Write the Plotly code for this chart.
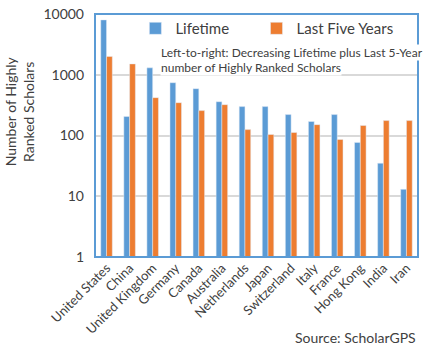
import plotly.graph_objects as go

countries = ["United States", "China", "United Kingdom", "Germany", "Canada", "Australia",
             "Netherlands", "Japan", "Switzerland", "Italy", "France", "Hong Kong", "India", "Iran"]
lifetime = [8000, 205, 1300, 740, 590, 360, 299, 299, 221, 170, 221, 77, 35, 13]
last_five = [2000, 1510, 420, 347, 257, 322, 125, 104, 112, 151, 86, 146, 176, 176]
y_ticks = [1, 10, 100, 1000, 10000]
y_tick_text = ["1", "10", "100", "1000", "10000"]

BLUE = "#5B9BD5"
ORANGE = "#ED7D31"
FONT = "Lato"

fig = go.Figure()
fig.add_trace(go.Bar(x=countries, y=lifetime, name="Lifetime", marker_color=BLUE,
                     legend="legend"))
fig.add_trace(go.Bar(x=countries, y=last_five, name="Last Five Years", marker_color=ORANGE,
                     legend="legend2"))

leg_common = dict(orientation="h", yanchor="middle", xanchor="left",
                  font=dict(size=15, color="#404040"), itemwidth=30,
                  bgcolor="rgba(0,0,0,0)")
fig.update_layout(
    width=428, height=352,
    margin=dict(l=95, r=10, t=14, b=95, autoexpand=False),
    paper_bgcolor="white", plot_bgcolor="white",
    barmode="group", bargap=0.5, bargroupgap=0,
    font=dict(family=FONT, size=13, color="#404040"),
    showlegend=True,
    legend=dict(x=0.125, y=0.94, **leg_common),
    legend2=dict(x=0.50, y=0.94, **leg_common),
)
fig.update_xaxes(
    tickangle=-45, tickfont=dict(size=13, color="#404040"), automargin=False,
    showline=False, ticks="",
)
fig.update_yaxes(
    type="log", range=[0, 4], tickvals=y_ticks, ticktext=y_tick_text, automargin=False,
    tickfont=dict(size=14, color="#404040"),
    showgrid=True, gridcolor="#D9D9D9", gridwidth=1.5,
    showline=False, ticks="", zeroline=False,
    ticklabelstandoff=10,
)
fig.add_shape(type="rect", xref="paper", yref="paper", x0=0, y0=0, x1=1, y1=1,
              line=dict(color=BLUE, width=2), layer="above")
fig.add_annotation(
    text="Number of Highly<br>Ranked Scholars", xref="paper", yref="paper",
    x=-0.235, y=0.6, xanchor="center", yanchor="middle", textangle=-90,
    showarrow=False, font=dict(size=14, color="#404040"),
)
for txt, yy in [("Left-to-right: Decreasing Lifetime plus Last 5-Year", 0.84),
                ("number of Highly Ranked Scholars", 0.778)]:
    fig.add_annotation(
        text=txt, xref="paper", yref="paper", x=0.2, y=yy, xanchor="left", yanchor="middle",
        align="left", showarrow=False, font=dict(size=12, color="#404040"),
        bgcolor="white", borderpad=0,
    )
fig.add_annotation(
    text="Source: ScholarGPS", xref="paper", yref="paper", x=1.0, y=-0.33,
    xanchor="right", yanchor="middle", showarrow=False,
    font=dict(size=14, color="#404040"),
)

fig.write_html("out.html")
